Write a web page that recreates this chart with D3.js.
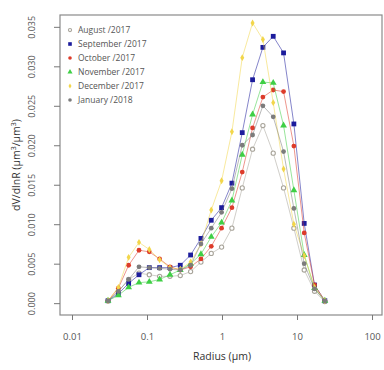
<!DOCTYPE html>
<html><head><meta charset="utf-8">
<script src="https://cdn.jsdelivr.net/npm/d3@7"></script>
<style>body{margin:0;background:#fff}svg{display:block}text{font-family:"Open Sans","Noto Sans",sans-serif}</style>
</head><body><svg id="c" width="384" height="370"></svg>
<script>
const radius = [0.0302,0.0415,0.0569,0.0782,0.1073,0.1473,0.2023,0.2777,0.3813,0.5236,0.7189,0.987,1.355,1.861,2.555,3.508,4.817,6.614,9.08,12.47,17.12,23.5];
const seriesNames = ["August/2017","September/2017","October/2017","November/2017","December/2017","January/2018"];
const august    = [0.0003,0.0015,0.0030,0.0038,0.0036,0.0034,0.0034,0.0035,0.0040,0.0052,0.0063,0.0071,0.0095,0.0146,0.0195,0.0225,0.0190,0.0146,0.0095,0.0042,0.0015,0.0002];
const september = [0.0003,0.0012,0.0025,0.0036,0.0045,0.0045,0.0045,0.0048,0.0061,0.0082,0.0105,0.0121,0.0152,0.0216,0.0283,0.0324,0.0338,0.0317,0.0227,0.0101,0.0023,0.0003];
const october   = [0.0003,0.0019,0.0048,0.0067,0.0065,0.0056,0.0046,0.0042,0.0046,0.0056,0.0072,0.0095,0.0121,0.0166,0.0222,0.0261,0.0270,0.0268,0.0199,0.0089,0.0023,0.0003];
const november  = [0.0003,0.0010,0.0020,0.0026,0.0027,0.0030,0.0036,0.0042,0.0050,0.0062,0.0084,0.0102,0.0130,0.0188,0.0239,0.0280,0.0279,0.0225,0.0143,0.0061,0.0019,0.0003];
const december  = [0.0003,0.0020,0.0058,0.0077,0.0068,0.0055,0.0045,0.0043,0.0052,0.0075,0.0118,0.0155,0.0217,0.0311,0.0355,0.0334,0.0254,0.0170,0.0100,0.0060,0.0020,0.0003];
const january   = [0.0003,0.0015,0.0030,0.0046,0.0045,0.0044,0.0043,0.0042,0.0048,0.0075,0.0095,0.0115,0.0145,0.0200,0.0213,0.0250,0.0236,0.0192,0.0120,0.0050,0.0018,0.0003];
const xTicks = [0.01,0.1,1,10,100];
const xTickLabels = ["0.01","0.1","1","10","100"];
const yTicks = [0,0.005,0.010,0.015,0.020,0.025,0.030,0.035];
const yTickLabels = ["0.000","0.005","0.010","0.015","0.020","0.025","0.030","0.035"];

const allValues = [august,september,october,november,december,january];
const colors = ["#a8a49a","#1c1c9c","#dd3b2a","#3fcf45","#f2d64a","#7c7c7c"];
const shapes = ["opencircle","square","circle","triangle","diamond","circle"];

const svg = d3.select("#c");
const L=60,R=382,T=15,B=315;
const x = d3.scaleLog().domain([Math.pow(10,-2.16),Math.pow(10,2.133)]).range([L,R]);
const y = d3.scaleLinear().domain([-0.0015,0.0365]).range([B,T]);

svg.append("rect").attr("x",L).attr("y",T).attr("width",R-L).attr("height",B-T)
  .attr("fill","none").attr("stroke","#8a8a8a").attr("stroke-width",1.2);

const xa = svg.append("g").attr("transform",`translate(0,${B})`)
  .call(d3.axisBottom(x).tickValues(xTicks).tickFormat((d,i)=>xTickLabels[i]).tickSize(5).tickPadding(13));
xa.select(".domain").remove();
xa.selectAll("line").attr("stroke","#777");
xa.selectAll("text").attr("fill","#555").attr("font-size","9.5px");

const ya = svg.append("g").attr("transform",`translate(${L},0)`)
  .call(d3.axisLeft(y).tickValues(yTicks).tickFormat((d,i)=>yTickLabels[i]).tickSize(6).tickPadding(0));
ya.select(".domain").remove();
ya.selectAll("line").attr("stroke","#777");
ya.selectAll("text").attr("fill","#555").attr("font-size","9px")
  .attr("text-anchor","middle").attr("x",0).attr("dy",0)
  .attr("transform","translate(-25,0) rotate(-90)");

svg.append("text").attr("x",222).attr("y",360).attr("text-anchor","middle")
  .attr("font-size","10.5px").attr("fill","#333").text("Radius (µm)");
svg.append("text").attr("transform","translate(20,165) rotate(-90)").attr("text-anchor","middle")
  .attr("font-size","10.5px").attr("fill","#333")
  .html('dV/dlnR (µm<tspan dy="-4" font-size="7px">3</tspan><tspan dy="4">/µm</tspan><tspan dy="-4" font-size="7px">3</tspan><tspan dy="4">)</tspan>');

function drawMarker(g, shape, color, cx, cy, s){
  if(shape==="square") g.append("rect").attr("x",cx-2.4*s).attr("y",cy-2.4*s).attr("width",4.8*s).attr("height",4.8*s).attr("fill",color);
  else if(shape==="circle") g.append("circle").attr("cx",cx).attr("cy",cy).attr("r",2.4*s).attr("fill",color);
  else if(shape==="opencircle") g.append("circle").attr("cx",cx).attr("cy",cy).attr("r",2.1*s).attr("fill","#fff").attr("stroke",color).attr("stroke-width",1.1);
  else if(shape==="triangle") g.append("path").attr("d",d3.symbol(d3.symbolTriangle, 20*s*s)()).attr("transform",`translate(${cx},${cy})`).attr("fill",color);
  else if(shape==="diamond") g.append("path").attr("d",d3.symbol(d3.symbolDiamond, 14*s*s)()).attr("transform",`translate(${cx},${cy})`).attr("fill",color);
}

const line = d3.line().x((d,i)=>x(radius[i])).y(d=>y(d));
allValues.forEach((vals,k)=>{
  const g = svg.append("g");
  g.append("path").attr("d",line(vals)).attr("fill","none").attr("stroke",colors[k]).attr("stroke-width",0.9).attr("opacity",0.6);
  vals.forEach((v,i)=>drawMarker(g,shapes[k],colors[k],x(radius[i]),y(v),1));
});

const lg = svg.append("g");
seriesNames.forEach((n,k)=>{
  const yy = 30 + k*14;
  drawMarker(lg,shapes[k],colors[k],70,yy,0.75);
  lg.append("text").attr("x",78).attr("y",yy+3).attr("font-size","8.5px").attr("fill","#555").text(n.replace("/"," /"));
});
</script></body></html>
